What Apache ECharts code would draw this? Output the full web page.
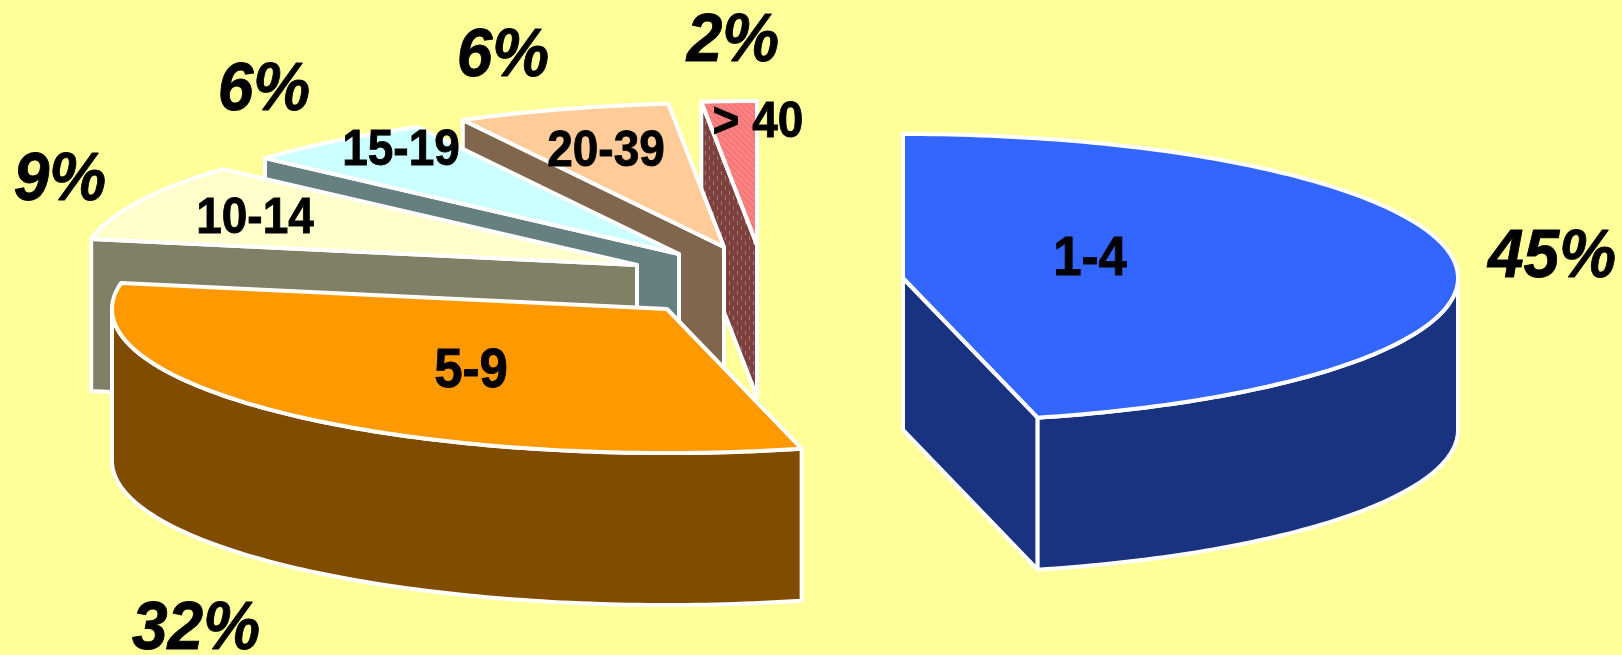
<!DOCTYPE html>
<html>
<head>
<meta charset="utf-8">
<style>html,body{margin:0;padding:0;background:#FFFF99}#chart{width:1622px;height:655px}</style>
<script src="https://cdn.jsdelivr.net/npm/echarts@6/dist/echarts.min.js"></script>
</head>
<body>
<div id="chart"></div>
<script>
// Age-group categories, clockwise from 12 o'clock
const categories = ['1-4', '5-9', '10-14', '15-19', '20-39', '> 40'];
// Printed percentage labels
const percentLabels = ['45%', '32%', '9%', '6%', '6%', '2%'];
const sliceShares = [46.1, 31.8, 8.7, 5.6, 6.2, 1.6];

// Layout and styling (not data)
const pie = { rx: 555, ry: 144, depth: 152, stroke: 4 };
const apexes = [[903, 278], [667, 309], [637, 265], [679, 254], [724, 247], [757, 245]];
const drawOrder = [1, 6, 5, 4, 3, 2];
const topColors = ['#3366FF', '#FF9900', '#FFFFCC', '#CCFFFF', '#FFCC99', '#FF8080'];
const wallColors = ['#1A3380', '#804C00', '#808066', '#668080', '#80664D', '#804040'];
const nameAnchors = [[1090, 260], [471, 372], [255, 219], [401, 151], [606, 152], [758, 123]];
const nameSizes = [51, 51, 46, 46, 46, 46];
const pctAnchors = [[1552, 258], [196, 630], [60, 181], [264, 91], [503, 57], [733, 42]];
const pctSize = 64;
const textStretch = 1.08;

function hatchTop() {
  const c = document.createElement('canvas'); c.width = 6; c.height = 6;
  const g = c.getContext('2d');
  g.fillStyle = '#FF8080'; g.fillRect(0, 0, 6, 6);
  g.strokeStyle = '#E07070'; g.lineWidth = 1;
  g.beginPath(); g.moveTo(0, 0); g.lineTo(6, 6); g.stroke();
  return { image: c, repeat: 'repeat' };
}
function dotWall() {
  const c = document.createElement('canvas'); c.width = 8; c.height = 10;
  const g = c.getContext('2d');
  g.fillStyle = '#7C4040'; g.fillRect(0, 0, 8, 10);
  g.fillStyle = '#A67A5C';
  g.fillRect(1, 1, 1, 4); g.fillRect(5, 6, 1, 4);
  return { image: c, repeat: 'repeat' };
}
const lastFill = { top: hatchTop(), wall: dotWall() };

const total = sliceShares.reduce((a, b) => a + b, 0);
const cumulative = [];
sliceShares.reduce((acc, v, i) => { cumulative[i] = acc; return acc + v; }, 0);

function rimPoint(c, deg, dz) {
  const t = deg * Math.PI / 180;
  return [c[0] + pie.rx * Math.sin(t), c[1] - pie.ry * Math.cos(t) + dz];
}
function arc(c, a0, a1, dz) {
  const pts = [];
  for (let a = a0; a < a1; a += 1) pts.push(rimPoint(c, a, dz));
  pts.push(rimPoint(c, a1, dz));
  return pts;
}

function renderItem(params, api) {
  const i = api.value(0);
  const a0 = cumulative[i] / total * 360;
  const a1 = (cumulative[i] + api.value(1)) / total * 360;
  const c = apexes[i];
  const z = drawOrder[i] * 10;
  const isLast = i === categories.length - 1;
  const topFill = isLast ? lastFill.top : topColors[i];
  const wallFill = isLast ? lastFill.wall : wallColors[i];
  const children = [];
  const poly = (points, fill, zz) => children.push({
    type: 'polygon', z2: zz, shape: { points: points },
    style: { fill: fill, stroke: '#FFFFFF', lineWidth: pie.stroke, lineJoin: 'round' }
  });
  const edgeWall = deg => {
    const p = rimPoint(c, deg, 0), q = rimPoint(c, deg, pie.depth);
    poly([c, p, q, [c[0], c[1] + pie.depth]], wallFill, z);
  };
  // Cut faces that look towards the viewer
  if (a0 > 180 && a0 < 360) edgeWall(a0);
  if (a1 > 0 && a1 < 180) edgeWall(a1);
  // Outer rim that looks towards the viewer
  const r0 = Math.max(a0, 90), r1 = Math.min(a1, 270);
  if (r0 < r1) poly(arc(c, r0, r1, 0).concat(arc(c, r0, r1, pie.depth).reverse()), wallFill, z + 1);
  // Top face
  poly([c].concat(arc(c, a0, a1, 0)), topFill, z + 2);
  // Texts
  const text = (str, at, font, weight) => children.push({
    type: 'text', z2: 200, x: at[0], y: at[1], scaleY: textStretch,
    style: { text: str, x: 0, y: 0, font: font, fill: '#000000', stroke: '#000000', lineWidth: weight, align: 'center', verticalAlign: 'middle' }
  });
  text(categories[i], nameAnchors[i], 'bold ' + nameSizes[i] + 'px "Liberation Sans"', 0.8);
  text(percentLabels[i], pctAnchors[i], 'italic bold ' + pctSize + 'px "Liberation Sans"', 0.8);
  return { type: 'group', children: children };
}

const chart = echarts.init(document.getElementById('chart'), null, { renderer: 'canvas' });
chart.setOption({
  animation: false,
  backgroundColor: '#FFFF99',
  series: [{
    type: 'custom',
    coordinateSystem: 'none',
    renderItem: renderItem,
    silent: true,
    clip: false,
    data: sliceShares.map((v, i) => [i, v])
  }]
});
</script>
</body>
</html>
